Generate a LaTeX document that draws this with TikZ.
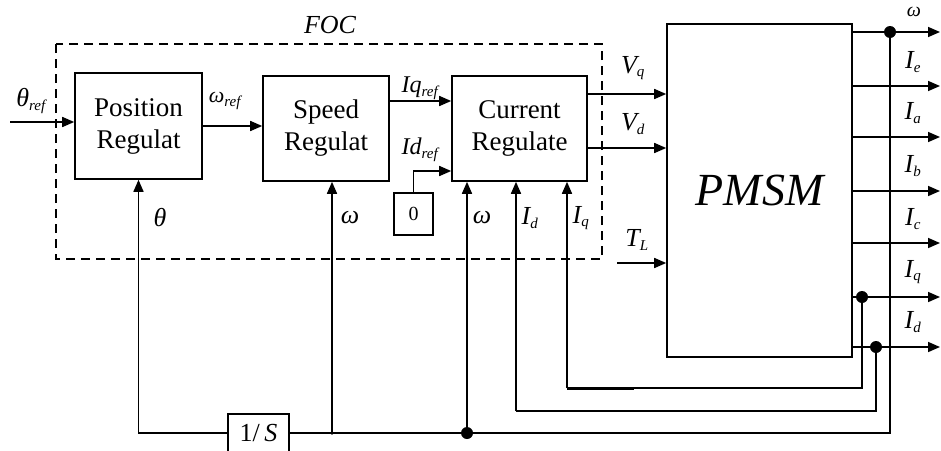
\documentclass[tikz,border=0pt]{standalone}
\usepackage{fontspec}
\setmainfont{Liberation Serif}
\usetikzlibrary{arrows.meta,calc}
\tikzset{
  blk/.style={draw, line width=1.6pt, align=center, inner sep=0pt, font=\fontsize{27}{30}\selectfont},
  arr/.style={line width=1.6pt, -{Triangle[length=12pt,width=10pt]}},
  ln/.style={line width=1.6pt},
  lbl/.style={font=\fontsize{26}{28}\selectfont\itshape, inner sep=0pt},
  jdot/.style={circle, fill=black, inner sep=0pt, minimum size=12pt},
}
\newcommand{\sbs}[1]{\textsubscript{\fontsize{15}{16}\selectfont #1}}
\begin{document}
\begin{tikzpicture}[x=1pt,y=-1pt]
\useasboundingbox (0,0) rectangle (941,450);
% FOC frame
\draw[dashed, line width=1.4pt, dash pattern=on 9pt off 6pt] (56,44) rectangle (602,259);
\node[lbl] (foc) at (330,25) {FOC};
% blocks
\node[blk, minimum width=127pt, minimum height=106pt] (pos) at (138.5,126) {Position\\[2pt]Regulat};
\node[blk, minimum width=126pt, minimum height=105pt] (spd) at (326,128.5) {Speed\\[2pt]Regulat};
\node[blk, minimum width=135pt, minimum height=105pt] (cur) at (519.5,128.5) {Current\\[2pt]Regulate};
\node[blk, minimum width=39pt, minimum height=42pt, font=\fontsize{20}{22}\selectfont] (zero) at (413.5,214) {0};
\node[blk, minimum width=185pt, minimum height=333pt, font=\fontsize{46}{50}\selectfont\itshape] (pmsm) at (759.5,190.5) {PMSM};
\node[blk, minimum width=61pt, minimum height=38pt, font=\fontsize{26}{28}\selectfont] (inv) at (258.5,433) {1/\,\textit{S}};
% coordinates
\coordinate (tin) at (10,122);
\coordinate (tl) at (617,263);
\coordinate (bus) at (890,433);
\node[jdot] (jw) at (890,32) {};
\node[jdot] (jiq) at (862,297) {};
\node[jdot] (jid) at (876,347) {};
\node[jdot] (jb) at (467,433) {};
\coordinate (js) at (332,433);
\coordinate (cid) at (516,411);
\coordinate (ciq) at (567,388);
\coordinate (xe) at (940,0);
% forward path
\draw[arr] (tin) -- (tin -| pos.west);
\draw[arr] (pos.east) -- (pos.east -| spd.west);
\draw[arr] (spd.east |- 0,101) -- (cur.west |- 0,101);
\draw[arr] (zero.north) |- (cur.west |- 0,171);
\draw[arr] (cur.east |- 0,94) -- (pmsm.west |- 0,94);
\draw[arr] (cur.east |- 0,148) -- (pmsm.west |- 0,148);
\draw[arr] (tl) -- (tl -| pmsm.west);
% outputs
\draw[arr] (pmsm.east |- jw) -- (xe |- jw);
\foreach \yy in {86,137,191,243}{\draw[arr] (pmsm.east |- 0,\yy) -- (xe |- 0,\yy);}
\draw[line width=2.6pt] (pmsm.east |- 0,137) -- (890,137);
\draw[arr] (pmsm.east |- jiq) -- (xe |- jiq);
\draw[arr] (pmsm.east |- jid) -- (xe |- jid);
% feedback
\draw[ln] (jw) -- (bus) -- (jb) -- (inv.east);
\draw[arr] (inv.west) -| (pos.south);
\draw[arr] (js) -- (js |- spd.south);
\fill (js) circle (1.8pt);
\draw[arr] (jb) -- (jb |- cur.south);
\draw[ln] (jid) |- (cid);
\draw[arr] (cid) -- (cid |- cur.south);
\draw[ln] (jiq) |- (ciq);
\draw[line width=3pt] (ciq) -- (634,388);
\draw[arr] (ciq) -- (ciq |- cur.south);
% labels
\node[lbl] (l1) at (31,101) {θ\sbs{ref}};
\node[lbl, font=\fontsize{22}{24}\selectfont\itshape] (l2) at (225,101) {ω\sbs{ref}};
\node[lbl, font=\fontsize{24}{26}\selectfont\itshape] (l3) at (420,88) {Iq\sbs{ref}};
\node[lbl, font=\fontsize{24}{26}\selectfont\itshape] (l4) at (420,150) {Id\sbs{ref}};
\node[lbl] (l5) at (633,68) {V\sbs{q}};
\node[lbl] (l6) at (633,124) {V\sbs{d}};
\node[lbl] (l7) at (637,240) {T\sbs{L}};
\node[lbl] (l8) at (160,218) {θ};
\node[lbl] (l9) at (350,218) {ω};
\node[lbl] (l10) at (482,218) {ω};
\node[lbl] (l11) at (530,218) {I\sbs{d}};
\node[lbl] (l12) at (581,218) {I\sbs{q}};
\node[lbl, font=\fontsize{20}{22}\selectfont\itshape] (o1) at (914,12) {ω};
\node[lbl] (o2) at (913,62) {I\sbs{e}};
\node[lbl] (o3) at (913,113) {I\sbs{a}};
\node[lbl] (o4) at (913,166) {I\sbs{b}};
\node[lbl] (o5) at (913,219) {I\sbs{c}};
\node[lbl] (o6) at (913,272) {I\sbs{q}};
\node[lbl] (o7) at (913,322) {I\sbs{d}};
\end{tikzpicture}
\end{document}
